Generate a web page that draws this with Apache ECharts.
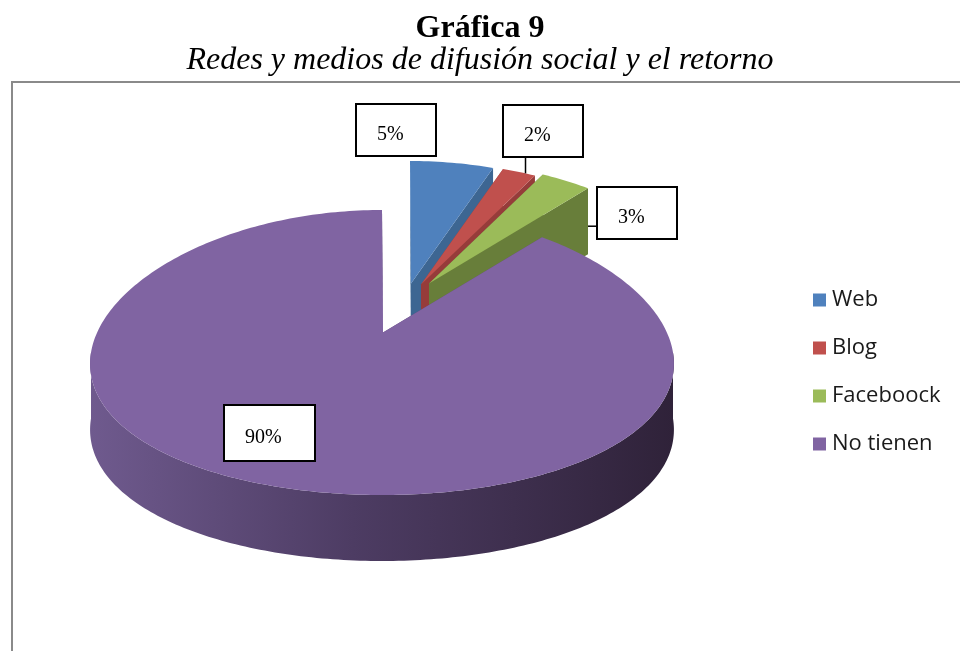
<!DOCTYPE html>
<html>
<head>
<meta charset="utf-8">
<script src="https://cdn.jsdelivr.net/npm/echarts@6/dist/echarts.min.js"></script>
<style>
  html, body { margin: 0; padding: 0; background: #fff; }
  #chart { width: 960px; height: 651px; }
</style>
</head>
<body>
<div id="chart"></div>
<script>
// data
const categories = ["Web", "Blog", "Faceboock", "No tienen"];
const values = [5, 2, 3, 90];
const labels = ["5%", "2%", "3%", "90%"];

// styles
const topColors = ["#4f81bd", "#c0504d", "#9bbb59", "#8064a2"];
const sideColors = ["#3d6692", "#963c3a", "#687e3a", "#5e4a7a"];
// pixel shift of each exploded slice
const explode = [[28, -49], [38, -48], [46, -49], [0, 0]];
// label box centre, relative to the rim point at the slice middle
const labelShift = [[-56, -33], [24, -41], [71, 32], [-16, -55]];
const labelSize = [[80, 52], [80, 52], [80, 52], [91, 56]];
// leader line start: [fraction of slice angle, drop below rim]
const leaderFrom = [null, [0.7, 0], [1, 38], null];

// 3d look: ellipse radii, apex lift, wall depth, perspective narrowing at the back
const pie = { cx: 382, cy: 352.5, rx: 291, ry: 142.5, lift: 20, depth: 66, persp: 0.08 };

const total = values.reduce((s, v) => s + v, 0);
const startAngle = [];
let acc = 0;
values.forEach(v => { startAngle.push(acc / total * 360); acc += v; });

function rim(deg, off, drop) {
  const t = deg * Math.PI / 180;
  const k = 1 - pie.persp * Math.cos(t);
  return [pie.cx + off[0] + pie.rx * k * Math.sin(t),
          pie.cy + off[1] - pie.ry * Math.cos(t) + (drop || 0)];
}
function apex(off, drop) {
  return [pie.cx + 1 + off[0], pie.cy - pie.lift + off[1] + (drop || 0)];
}
function arc(a0, a1, off, drop) {
  const n = Math.max(2, Math.ceil(a1 - a0));
  const pts = [];
  for (let k = 0; k <= n; k++) pts.push(rim(a0 + (a1 - a0) * k / n, off, drop));
  return pts;
}

function renderSlice(i) {
  return function (params, api) {
    const v = api.value(0);
    const a0 = startAngle[i];
    const a1 = a0 + v / total * 360;
    const off = explode[i];
    const d = pie.depth;
    const children = [];
    let z = 1;

    const face = deg => ({
      type: "polygon", z2: z++,
      shape: { points: [apex(off), rim(deg, off), rim(deg, off, d), apex(off, d)] },
      style: { fill: sideColors[i] }
    });
    children.push(face(a0), face(a1));

    // front part of the outer wall
    const w0 = Math.max(a0, 90), w1 = Math.min(a1, 270);
    if (w1 > w0) {
      const pts = arc(w0, w1, off).concat(arc(w0, w1, off, d).reverse());
      children.push({
        type: "polygon", z2: z++,
        shape: { points: pts },
        style: {
          fill: new echarts.graphic.LinearGradient(0, 0, 1, 0, [
            { offset: 0, color: "#6f5a8e" },
            { offset: 0.45, color: "#4d3c63" },
            { offset: 1, color: "#2f2239" }
          ])
        }
      });
    }

    // top face
    children.push({
      type: "polygon", z2: z++,
      shape: { points: [apex(off)].concat(arc(a0, a1, off)) },
      style: { fill: topColors[i] }
    });

    // label box
    const mid = rim((a0 + a1) / 2, off);
    const bw = labelSize[i][0], bh = labelSize[i][1];
    const bx = Math.round(mid[0] + labelShift[i][0] - bw / 2);
    const by = Math.round(mid[1] + labelShift[i][1] - bh / 2);
    if (leaderFrom[i]) {
      const p = rim(a0 + (a1 - a0) * leaderFrom[i][0], off, leaderFrom[i][1]);
      const qx = Math.min(Math.max(p[0], bx), bx + bw);
      const qy = Math.min(Math.max(p[1], by), by + bh);
      children.push({
        type: "line", z2: z++,
        shape: { x1: p[0], y1: p[1], x2: qx, y2: qy },
        style: { stroke: "#000", lineWidth: 1.5 }
      });
    }
    children.push({
      type: "rect", z2: z++,
      shape: { x: bx, y: by, width: bw, height: bh },
      style: { fill: "#fff", stroke: "#000", lineWidth: 2 }
    });
    children.push({
      type: "text", z2: z++,
      style: {
        text: labels[i], x: bx + 21, y: by + bh / 2 + 5,
        fill: "#000", fontSize: 20, fontFamily: "Liberation Serif",
        verticalAlign: "middle", align: "left"
      }
    });

    return { type: "group", children: children };
  };
}

const chart = echarts.init(document.getElementById("chart"));

const option = {
  animation: false,
  backgroundColor: "#fff",
  title: {
    text: "Gráfica 9",
    subtext: "Redes y medios de difusión social y el retorno",
    left: "center",
    top: 15,
    itemGap: 0,
    padding: 0,
    textStyle: {
      fontFamily: "Liberation Serif", fontWeight: "bold",
      fontSize: 32, lineHeight: 28, color: "#000"
    },
    subtextStyle: {
      fontFamily: "Liberation Serif", fontStyle: "italic",
      fontSize: 32, lineHeight: 28, color: "#000"
    }
  },
  legend: {
    orient: "vertical",
    left: 808,
    top: 283,
    icon: "rect",
    itemWidth: 13,
    itemHeight: 13,
    itemGap: 24,
    data: categories,
    textStyle: {
      fontFamily: "Open Sans", fontSize: 22, lineHeight: 24,
      color: "#1a1a1a", padding: [0, 0, 0, 1]
    }
  },
  graphic: [{
    type: "rect",
    shape: { x: 12, y: 82, width: 1000, height: 700 },
    style: { fill: null, stroke: "#8a8a8a", lineWidth: 2 }
  }],
  series: categories.map((name, i) => ({
    type: "custom",
    name: name,
    coordinateSystem: "none",
    z: 2 + i,
    itemStyle: { color: topColors[i] },
    data: [values[i]],
    renderItem: renderSlice(i)
  }))
};

chart.setOption(option);
window.addEventListener("resize", () => chart.resize());
</script>
</body>
</html>
